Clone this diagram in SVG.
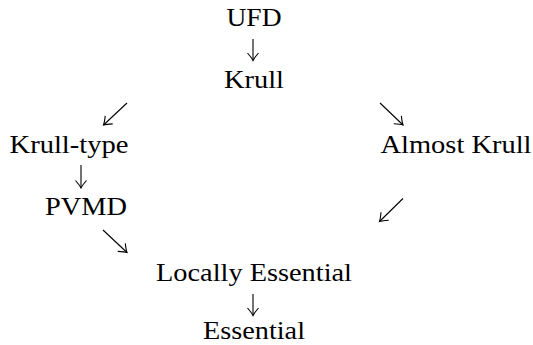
<svg xmlns="http://www.w3.org/2000/svg" width="533" height="345" viewBox="0 0 533 345">
  <style>
    text { font-family: 'Liberation Serif', 'Times New Roman', Tinos, 'DejaVu Serif', 'Noto Serif', serif; font-size: 26px; fill: #000; text-anchor: middle; }
    .conn { stroke: #000; stroke-width: 1.1; fill: none; }
  </style>
  <defs>
    <marker id="head" markerUnits="userSpaceOnUse" markerWidth="16" markerHeight="16" viewBox="-9 -8 11 16" refX="0" refY="0" orient="auto">
      <path d="M-7.5,-5.5 Q-2.5,-1.2 0,0 Q-2.5,1.2 -7.5,5.5" stroke="#000" stroke-width="1.1" fill="none"/>
    </marker>
  </defs>
  <rect width="533" height="345" fill="#fff"/>
  <g id="ufd"><text x="254" y="26" textLength="55" lengthAdjust="spacingAndGlyphs">UFD</text></g>
  <g id="krull"><text x="254" y="88" textLength="60" lengthAdjust="spacingAndGlyphs">Krull</text></g>
  <g id="krull-type"><text x="69" y="153" textLength="119" lengthAdjust="spacingAndGlyphs">Krull-type</text></g>
  <g id="almost-krull"><text x="456" y="153" textLength="151" lengthAdjust="spacingAndGlyphs">Almost Krull</text></g>
  <g id="pvmd"><text x="86" y="215" textLength="82" lengthAdjust="spacingAndGlyphs">PVMD</text></g>
  <g id="locally-essential"><text x="254" y="281" textLength="196" lengthAdjust="spacingAndGlyphs">Locally Essential</text></g>
  <g id="essential"><text x="254" y="339" textLength="102" lengthAdjust="spacingAndGlyphs">Essential</text></g>
  <g id="connectors">
    <path class="conn" d="M253,39 L253,60.5" marker-end="url(#head)"/>
    <path class="conn" d="M127,103 L103.5,125" marker-end="url(#head)"/>
    <path class="conn" d="M380,103 L403,125" marker-end="url(#head)"/>
    <path class="conn" d="M81,165 L81,188" marker-end="url(#head)"/>
    <path class="conn" d="M103,230 L127,252.5" marker-end="url(#head)"/>
    <path class="conn" d="M403,198.5 L379.5,221.5" marker-end="url(#head)"/>
    <path class="conn" d="M253,294 L253,315.5" marker-end="url(#head)"/>
  </g>
</svg>
